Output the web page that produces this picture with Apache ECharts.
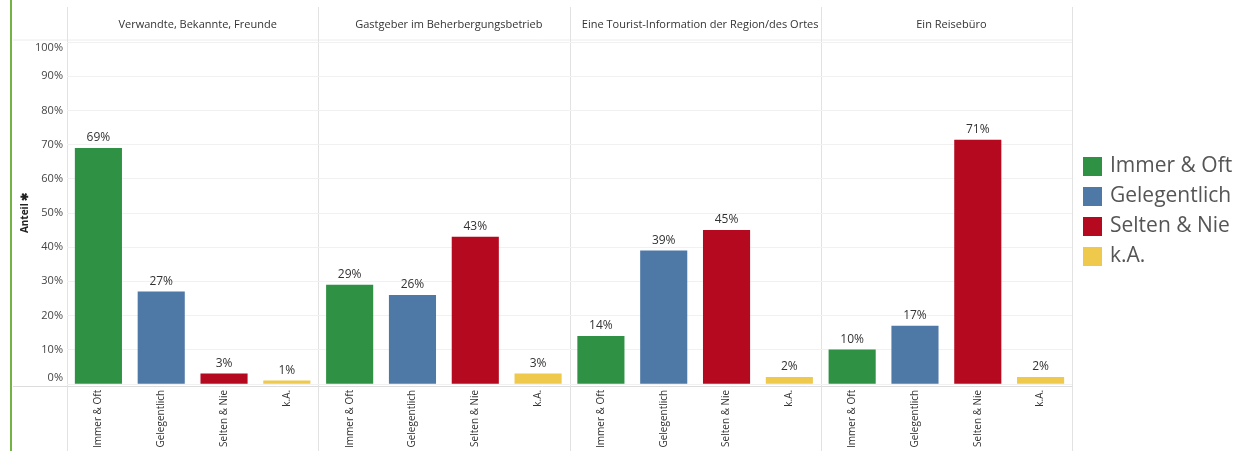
<!DOCTYPE html>
<html>
<head>
<meta charset="utf-8">
<script src="https://cdn.jsdelivr.net/npm/echarts@6/dist/echarts.min.js"></script>
<style>
  html, body { margin: 0; padding: 0; background: #fff; }
  #chart { width: 1236px; height: 451px; }
</style>
</head>
<body>
<div id="chart"></div>
<script>
// Informationsquellen (Panels) und Antwortkategorien
const panels = [
    'Verwandte, Bekannte, Freunde',
    'Gastgeber im Beherbergungsbetrieb',
    'Eine Tourist-Information der Region/des Ortes',
    'Ein Reiseb\u00fcro'
];
const categories = ['Immer & Oft', 'Gelegentlich', 'Selten & Nie', 'k.A.'];
const colors = ['#2f9143', '#4e79a7', '#b5091f', '#eec94b'];

// Anteil in % je Panel (Reihenfolge wie categories)
const valuesFreunde = [69, 27, 3, 1];
const valuesGastgeber = [29, 26, 43, 3];
const valuesTouristInfo = [14, 39, 45, 2];
const valuesReisebuero = [10, 17, 71.4, 2];
const panelValues = [valuesFreunde, valuesGastgeber, valuesTouristInfo, valuesReisebuero];

const yTicks = [0, 10, 20, 30, 40, 50, 60, 70, 80, 90, 100];

const chart = echarts.init(document.getElementById('chart'));

const font = '"Open Sans", "Noto Sans", sans-serif';
const panelLeft = 67;
const panelW = 251.25;
const plotTop = 42;
const plotBottom = 65;

const grids = [];
const xAxes = [];
const yAxes = [];
const series = [];
const titles = [];

panels.forEach((name, p) => {
    const left = panelLeft + p * panelW;
    grids.push({ left: left, top: plotTop, width: panelW, bottom: plotBottom });
    titles.push({
        text: name,
        left: left + panelW / 2,
        top: 14,
        textAlign: 'center',
        textStyle: { fontFamily: font, fontSize: 11, fontWeight: 'normal', color: '#333' }
    });
    xAxes.push({
        type: 'category',
        gridIndex: p,
        data: categories,
        axisLine: { show: false },
        axisTick: { show: false },
        axisLabel: {
            rotate: 90,
            interval: 0,
            margin: 6,
            fontFamily: font,
            fontSize: 10,
            color: '#333'
        }
    });
    yAxes.push({
        type: 'value',
        gridIndex: p,
        min: 0,
        max: 100,
        interval: 10,
        name: p === 0 ? 'Anteil \u2731' : '',
        nameLocation: 'middle',
        nameGap: 37,
        nameTextStyle: { fontFamily: font, fontSize: 10, fontWeight: 'bold', color: '#222' },
        axisLine: { show: false },
        axisTick: { show: false },
        splitLine: { lineStyle: { color: '#f1f1f1', width: 1 } },
        axisLabel: {
            show: p === 0,
            margin: 4,
            fontFamily: font,
            fontSize: 11,
            color: '#444',
            verticalAlignMinLabel: 'bottom',
            verticalAlignMaxLabel: 'top',
            customValues: yTicks,
            formatter: v => v + '%'
        }
    });
    categories.forEach((cat, c) => {
        series.push({
            name: cat,
            type: 'bar',
            xAxisIndex: p,
            yAxisIndex: p,
            stack: 'panel' + p,
            barWidth: '75%',
            data: categories.map((_, k) => (k === c ? panelValues[p][k] : '-')),
            itemStyle: { color: colors[c] },
            label: {
                show: true,
                position: 'top',
                distance: 4,
                fontFamily: font,
                fontSize: 12,
                color: '#333',
                formatter: d => Math.round(d.value) + '%'
            }
        });
    });
});

// Trennlinien der Tabelle
const lineColor = '#e2e2e2';
const graphics = [
    { type: 'rect', shape: { x: 10, y: 0, width: 2, height: 451 }, style: { fill: '#74b244' } },
    { type: 'line', shape: { x1: 13, y1: 40, x2: 1072, y2: 40 }, style: { stroke: '#ececec', lineWidth: 1 } },
    { type: 'line', shape: { x1: 13, y1: 386.5, x2: 1072, y2: 386.5 }, style: { stroke: '#dcdcdc', lineWidth: 1 } }
];
for (let i = 0; i <= panels.length; i++) {
    const x = Math.round(panelLeft + i * panelW) + 0.5;
    graphics.push({
        type: 'line',
        shape: { x1: x, y1: 7, x2: x, y2: 451 },
        style: { stroke: lineColor, lineWidth: 1 }
    });
}

const option = {
    animation: false,
    title: titles,
    legend: {
        data: categories,
        orient: 'vertical',
        left: 1078,
        top: 151,
        itemWidth: 19,
        itemHeight: 19,
        itemGap: 9,
        icon: 'rect',
        selectedMode: false,
        textStyle: { fontFamily: font, fontSize: 21, color: '#555', padding: [0, 0, 0, 3] }
    },
    grid: grids,
    xAxis: xAxes,
    yAxis: yAxes,
    series: series,
    graphic: graphics
};

chart.setOption(option);
</script>
</body>
</html>
